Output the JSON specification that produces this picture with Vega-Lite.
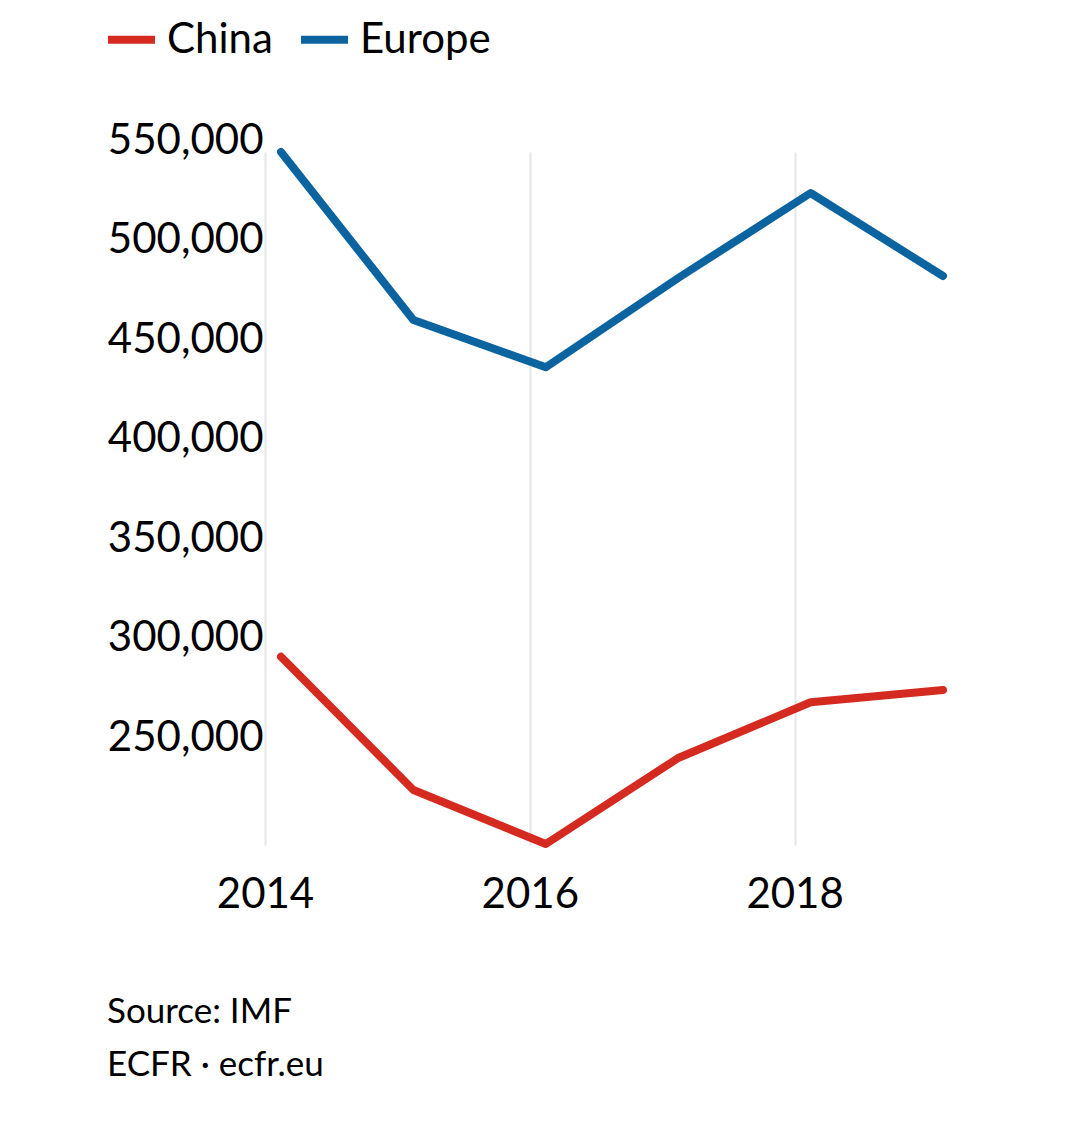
{
  "$schema": "https://vega.github.io/schema/vega-lite/v6.json",
  "autosize": "none",
  "padding": {"left": 281, "top": 152, "right": 137, "bottom": 293},
  "width": 662,
  "height": 693,
  "background": "white",
  "config": {
    "view": {"stroke": null},
    "font": "Lato",
    "axis": {"labelFont": "Lato", "labelColor": "#000000"}
  },
  "title": {
    "text": ["Source: IMF", "ECFR · ecfr.eu"],
    "orient": "bottom",
    "anchor": "start",
    "frame": "bounds",
    "font": "Lato",
    "fontSize": 35,
    "fontWeight": "normal",
    "color": "#000000",
    "lineHeight": 53,
    "offset": 80,
    "dx": 3
  },
  "data": {
    "values": [
      {"year": 2014, "region": "China", "value": 296380},
      {"year": 2015, "region": "China", "value": 229400},
      {"year": 2016, "region": "China", "value": 202260},
      {"year": 2017, "region": "China", "value": 245480},
      {"year": 2018, "region": "China", "value": 273470},
      {"year": 2019, "region": "China", "value": 279650},
      {"year": 2014, "region": "Europe", "value": 550000},
      {"year": 2015, "region": "Europe", "value": 465580},
      {"year": 2016, "region": "Europe", "value": 441810},
      {"year": 2017, "region": "Europe", "value": 486680},
      {"year": 2018, "region": "Europe", "value": 529400},
      {"year": 2019, "region": "Europe", "value": 487690}
    ]
  },
  "mark": {"type": "line", "strokeWidth": 8, "strokeCap": "round", "strokeJoin": "round"},
  "encoding": {
    "x": {
      "field": "year",
      "type": "quantitative",
      "scale": {"domain": [2014, 2019], "nice": false, "zero": false},
      "axis": {
        "title": null,
        "values": [2014, 2016, 2018],
        "format": "d",
        "grid": true,
        "gridColor": "#e6e6e6",
        "gridWidth": 2,
        "domain": false,
        "ticks": false,
        "tickSize": 0,
        "tickOffset": -16,
        "labelFontSize": 42,
        "labelPadding": 29,
        "labelFlush": false,
        "labelOverlap": false
      }
    },
    "y": {
      "field": "value",
      "type": "quantitative",
      "scale": {"domain": [201760, 550000], "nice": false, "zero": false},
      "axis": {
        "title": null,
        "values": [250000, 300000, 350000, 400000, 450000, 500000, 550000],
        "format": ",d",
        "grid": false,
        "domain": false,
        "ticks": false,
        "tickSize": 0,
        "labelFontSize": 42,
        "labelPadding": 18,
        "labelOffset": -12,
        "labelOverlap": false,
        "labelFlush": false
      }
    },
    "color": {
      "field": "region",
      "type": "nominal",
      "scale": {"domain": ["China", "Europe"], "range": ["#d42a20", "#0b64a0"]},
      "legend": {
        "title": null,
        "orient": "none",
        "direction": "horizontal",
        "legendX": -177,
        "legendY": -140,
        "padding": 0,
        "symbolType": "stroke",
        "symbolStrokeWidth": 8,
        "symbolSize": 2209,
        "labelFont": "Lato",
        "labelFontSize": 42,
        "labelColor": "#000000",
        "labelOffset": 8,
        "columnPadding": 12
      }
    }
  }
}
